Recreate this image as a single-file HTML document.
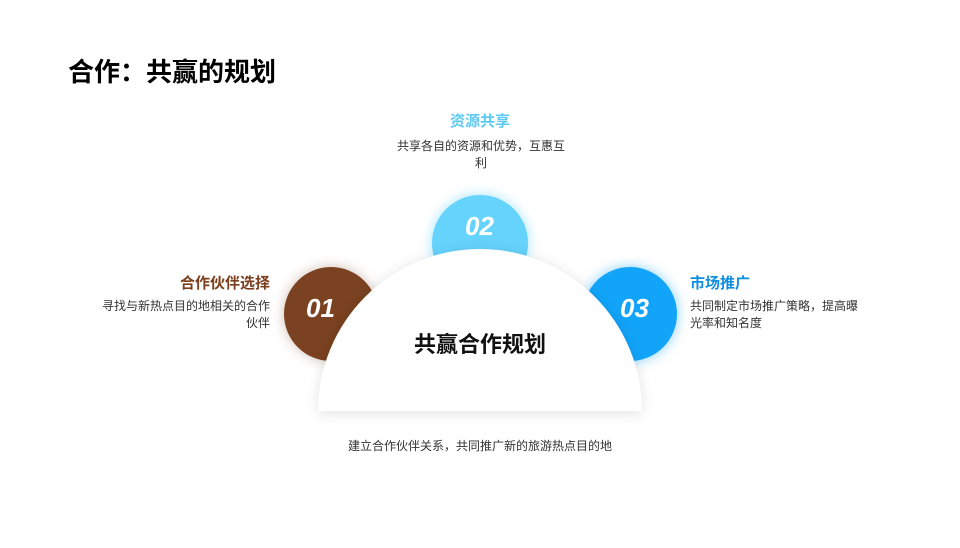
<!DOCTYPE html>
<html><head><meta charset="utf-8"><style>
body{margin:0;width:960px;height:548px;background:#fff;position:relative;overflow:hidden;font-family:"Liberation Sans","Noto Sans CJK SC",sans-serif;color:#222}
.a{position:absolute}
.c{position:absolute;border-radius:50%;color:#fff;font-weight:bold;font-style:italic;font-size:26px}
.c span{position:absolute}
.h{font-size:15px;font-weight:bold}
.t{font-size:12px;line-height:17px;color:#333}
</style></head><body>
<div class="a" style="left:68px;top:52px;font-size:26px;font-weight:bold;color:#000">合作：共赢的规划</div>

<div class="a h" style="left:380px;top:110px;width:200px;text-align:center;color:#5ccaf5">资源共享</div>
<div class="a t" style="left:396px;top:138px;width:170px;text-align:center">共享各自的资源和优势，互惠互利</div>

<div class="a h" style="left:100px;top:272px;width:170px;text-align:right;color:#7b3f1e">合作伙伴选择</div>
<div class="a t" style="left:100px;top:298px;width:170px;text-align:right">寻找与新热点目的地相关的合作伙伴</div>

<div class="a h" style="left:690px;top:272px;color:#0e8fe0">市场推广</div>
<div class="a t" style="left:690px;top:298px;width:172px">共同制定市场推广策略，提高曝光率和知名度</div>

<div class="c" style="left:284px;top:267px;width:94px;height:94px;background:#7a4220;box-shadow:0 0 12px rgba(122,66,32,.35)"><span style="left:22px;top:26px">01</span></div>
<div class="c" style="left:432px;top:195px;width:96px;height:96px;background:#66d3fd;box-shadow:0 0 12px rgba(102,211,253,.6)"><span style="left:33px;top:16px">02</span></div>
<div class="c" style="left:583px;top:267px;width:94px;height:94px;background:#12a4f9;box-shadow:0 0 12px rgba(18,164,249,.5)"><span style="left:37px;top:26px">03</span></div>

<div class="a" style="left:318px;top:249px;width:324px;height:162px;border-radius:162px 162px 0 0;background:#fff;box-shadow:0 2px 14px rgba(0,0,0,.12)"></div>
<div class="a" style="left:380px;top:327px;width:200px;text-align:center;font-size:22px;font-weight:bold;color:#111">共赢合作规划</div>

<div class="a t" style="left:280px;top:438px;width:400px;text-align:center">建立合作伙伴关系，共同推广新的旅游热点目的地</div>
</body></html>
